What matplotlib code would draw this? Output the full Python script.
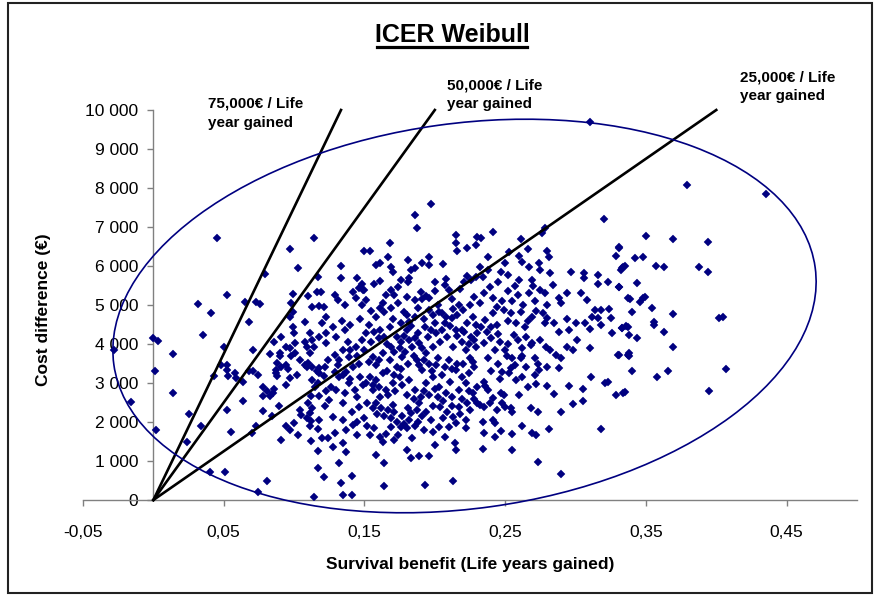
import numpy as np
import matplotlib
matplotlib.use("Agg")
import matplotlib.pyplot as plt
from matplotlib.patches import Ellipse, Rectangle
from matplotlib.lines import Line2D

plt.rcParams["font.family"] = ["Liberation Sans", "DejaVu Sans"]

# PSA draws: (survival benefit in life years, cost difference in EUR)
psa_draws = [
    # left part of the cloud
    (-0.028, 3840), (0.000, 4160), (0.003, 4080), (0.001, 3310), (-0.016, 2510), (0.002, 1790),
    (0.014, 3740), (0.014, 2740), (0.025, 2210), (0.024, 1490), (0.032, 5030), (0.035, 4230),
    (0.041, 4800), (0.045, 6720), (0.052, 5260), (0.050, 3930), (0.043, 3170), (0.048, 3470),
    (0.052, 3450), (0.052, 3340), (0.053, 3190), (0.058, 3250), (0.059, 3140), (0.064, 3020),
    (0.064, 2550), (0.052, 2320), (0.034, 1890), (0.055, 1750), (0.040, 720), (0.051, 720),
    (0.065, 5080), (0.073, 5080), (0.076, 5020), (0.068, 4570), (0.071, 3850), (0.068, 3320),
    (0.071, 3320), (0.074, 3210), (0.079, 5800), (0.078, 2280), (0.073, 1890), (0.070, 1710),
    (0.081, 480), (0.074, 200), (0.086, 4040), (0.083, 3740), (0.078, 2910), (0.081, 2790),
    (0.083, 2660), (0.078, 2660), (0.085, 2740), (0.086, 2850), (0.084, 2150), (0.091, 4190),
    (0.090, 3760), (0.090, 3680), (0.088, 3510), (0.091, 3420), (0.087, 3340), (0.087, 3250),
    (0.088, 3170), (0.094, 3470), (0.096, 3360), (0.094, 2960), (0.089, 2400), (0.094, 1890),
    (0.097, 1790), (0.091, 1530), (0.097, 6440), (0.103, 5950), (0.099, 5290), (0.098, 5040),
    (0.099, 4830), (0.097, 4700), (0.099, 4440), (0.100, 4270), (0.094, 3930), (0.097, 3890),
    (0.101, 4020), (0.098, 3680), (0.101, 3760), (0.097, 3130), (0.102, 3210), (0.104, 2320),
    (0.105, 2190), (0.100, 1980), (0.103, 1670), (0.108, 4570), (0.110, 5230), (0.108, 4060),
    (0.109, 3930), (0.104, 3590), (0.108, 3470), (0.110, 3510), (0.111, 4270), (0.113, 4100),
    (0.111, 3760), (0.114, 3930), (0.114, 6710), (0.113, 4950), (0.118, 4970), (0.116, 5340),
    (0.119, 5340), (0.117, 5730), (0.118, 4190), (0.120, 4530), (0.109, 3420), (0.113, 3080),
    (0.115, 2910), (0.112, 2660), (0.118, 2660), (0.110, 2490), (0.113, 2360), (0.111, 2230),
    (0.109, 2110), (0.112, 2020), (0.118, 2060), (0.111, 1890), (0.117, 1810), (0.120, 1600),
    (0.124, 1600), (0.112, 1510), (0.117, 1260), (0.117, 830), (0.121, 600), (0.114, 70),
    (0.123, 4700), (0.121, 4950), (0.123, 4270), (0.123, 4020), (0.122, 3420), (0.124, 3590),
    (0.121, 3170), (0.123, 2790), (0.122, 2400), (0.125, 2570), (0.118, 3380), (0.118, 3250),
    (0.113, 3420), (0.116, 3300), (0.117, 3000),
    # dense centre
    (0.197, 7580), (0.186, 7310), (0.187, 6965), (0.215, 6790), (0.215, 6600), (0.216, 6380),
    (0.230, 6750), (0.229, 6540), (0.223, 6450), (0.168, 6580), (0.150, 6380), (0.154, 6380),
    (0.167, 6240), (0.161, 6085), (0.158, 6025), (0.169, 5965), (0.170, 5855), (0.181, 6150),
    (0.186, 5940), (0.183, 5900), (0.191, 6085), (0.196, 6240), (0.196, 6025), (0.206, 6050),
    (0.133, 6000), (0.133, 5680), (0.145, 5680), (0.148, 5530), (0.149, 5380), (0.146, 5430),
    (0.161, 5620), (0.182, 5680), (0.181, 5600), (0.174, 5470), (0.169, 5380), (0.171, 5255),
    (0.208, 5660), (0.207, 5510), (0.210, 5380), (0.223, 5745), (0.226, 5640), (0.229, 5710),
    (0.221, 5600), (0.190, 5340), (0.194, 5230), (0.196, 5170), (0.191, 5145), (0.186, 5130),
    (0.129, 5255), (0.131, 5130), (0.136, 5000), (0.142, 5340), (0.144, 5170), (0.151, 5130),
    (0.150, 5380), (0.163, 5040), (0.161, 4915), (0.158, 4700), (0.164, 4830), (0.169, 4915),
    (0.174, 5040), (0.180, 4740), (0.178, 4830), (0.188, 4915), (0.186, 4700), (0.182, 4570),
    (0.196, 4870), (0.199, 4743), (0.202, 5000), (0.203, 4830), (0.207, 4530), (0.208, 4700),
    (0.213, 4910), (0.212, 4660), (0.217, 5000), (0.220, 4870), (0.225, 5000), (0.228, 5210),
    (0.227, 4700), (0.223, 4530), (0.229, 4490), (0.219, 4360), (0.128, 4440), (0.130, 4190),
    (0.136, 4360), (0.138, 4060), (0.135, 3845), (0.129, 3720), (0.132, 3590), (0.139, 3675),
    (0.144, 3930), (0.148, 4100), (0.151, 4270), (0.155, 4060), (0.150, 3845), (0.156, 3675),
    (0.146, 3500), (0.142, 3420), (0.137, 3290), (0.132, 3160), (0.129, 3290), (0.161, 4360),
    (0.164, 4190), (0.168, 4440), (0.169, 3930), (0.163, 3760), (0.173, 4190), (0.176, 4060),
    (0.180, 4360), (0.182, 4100), (0.184, 3930), (0.188, 4270), (0.189, 4020), (0.193, 4440),
    (0.195, 4190), (0.199, 3930), (0.194, 3760), (0.201, 4270), (0.204, 4060), (0.209, 4190),
    (0.213, 3930), (0.215, 4360), (0.219, 4060), (0.222, 3845), (0.226, 4190), (0.229, 3930),
    (0.230, 4270), (0.168, 3590), (0.173, 3420), (0.177, 3675), (0.181, 3500), (0.187, 3590),
    (0.191, 3330), (0.196, 3500), (0.202, 3630), (0.207, 3420), (0.210, 3590), (0.215, 3330),
    (0.220, 3500), (0.225, 3630), (0.228, 3420), (0.163, 3250), (0.158, 3080), (0.154, 3160),
    (0.149, 2950), (0.143, 2820), (0.136, 2735), (0.130, 2820), (0.126, 2905), (0.139, 2990),
    (0.156, 2820), (0.161, 2650), (0.165, 2820), (0.170, 2990), (0.175, 3160), (0.182, 3080),
    (0.186, 2820), (0.190, 2650), (0.194, 2990), (0.199, 3160), (0.203, 2905), (0.208, 2735),
    (0.211, 3030), (0.217, 2820), (0.222, 2990), (0.227, 2735), (0.230, 2905), (0.158, 2480),
    (0.162, 2350), (0.167, 2310), (0.170, 2435), (0.169, 2090), (0.173, 2010), (0.176, 1880),
    (0.180, 1840), (0.182, 2050), (0.183, 2220), (0.189, 2480), (0.194, 2265), (0.197, 2050),
    (0.188, 2010), (0.184, 1580), (0.202, 2650), (0.204, 2390), (0.209, 2265), (0.213, 2140),
    (0.215, 1965), (0.210, 1880), (0.217, 2390), (0.223, 2480), (0.222, 2050), (0.225, 2310),
    (0.230, 2480), (0.203, 1880), (0.207, 1620), (0.214, 1450), (0.215, 1280), (0.222, 1840),
    (0.146, 2390), (0.145, 2650), (0.135, 2480), (0.128, 2140), (0.135, 2050), (0.137, 1795),
    (0.142, 1925), (0.129, 1710), (0.135, 1450), (0.128, 1370), (0.137, 1240), (0.145, 1665),
    (0.154, 1665), (0.157, 1840), (0.161, 1620), (0.163, 1500), (0.169, 1860), (0.174, 1665),
    (0.158, 1150), (0.164, 955), (0.180, 1280), (0.183, 1070), (0.189, 1130), (0.196, 1130),
    (0.200, 1410), (0.132, 955), (0.141, 615), (0.133, 425), (0.135, 130), (0.141, 130),
    (0.164, 360), (0.193, 395), (0.213, 495),
    # more overlapping draws in the dense core
    (0.134, 4600), (0.140, 4500), (0.147, 4650), (0.153, 4500), (0.157, 4300), (0.160, 4150),
    (0.166, 4000), (0.171, 3800), (0.175, 3900), (0.178, 4200), (0.183, 4450), (0.186, 4150),
    (0.191, 3900), (0.197, 4350), (0.200, 4550), (0.205, 4350), (0.211, 4450), (0.216, 4200),
    (0.221, 4300), (0.224, 4000), (0.228, 4100), (0.140, 3850), (0.145, 3700), (0.153, 3550),
    (0.158, 3450), (0.160, 3600), (0.166, 3300), (0.171, 3200), (0.176, 3350), (0.179, 3800),
    (0.185, 3700), (0.189, 3450), (0.192, 3600), (0.198, 3300), (0.201, 3450), (0.205, 3200),
    (0.212, 3350), (0.216, 3500), (0.219, 3150), (0.224, 3250), (0.227, 3550), (0.131, 3450),
    (0.135, 3200), (0.140, 3100), (0.147, 3150), (0.151, 3000), (0.156, 2950), (0.160, 2900),
    (0.167, 2700), (0.172, 2800), (0.177, 2950), (0.180, 2700), (0.185, 2600), (0.192, 2800),
    (0.196, 2700), (0.200, 2850), (0.206, 2550), (0.212, 2650), (0.219, 2600), (0.224, 2800),
    (0.228, 2600), (0.152, 2500), (0.156, 2350), (0.159, 2200), (0.164, 2150), (0.171, 2250),
    (0.177, 2150), (0.181, 2350), (0.187, 2300), (0.191, 2150), (0.199, 2400), (0.206, 2100),
    (0.212, 2400), (0.218, 2200), (0.150, 2100), (0.145, 2000), (0.141, 2250), (0.152, 1900),
    (0.178, 1950), (0.192, 1800), (0.199, 1750), (0.186, 1900), (0.165, 1700), (0.171, 1550),
    (0.148, 5000), (0.155, 4850), (0.170, 4650), (0.176, 4550), (0.192, 4650), (0.205, 4800),
    (0.216, 4750), (0.212, 5150), (0.200, 5350), (0.180, 5200), (0.165, 5250), (0.157, 5550),
    (0.176, 5650), (0.200, 5600), (0.218, 5400), (0.237, 4300), (0.244, 4500), (0.252, 4600),
    (0.245, 4250), (0.252, 4000), (0.259, 4100), (0.262, 3900), (0.238, 3650), (0.245, 3500),
    (0.251, 3700), (0.240, 3300), (0.246, 3100), (0.257, 3450), (0.265, 3400), (0.239, 2500),
    (0.244, 2300), (0.260, 2700), (0.266, 2900), (0.244, 4950), (0.252, 5350), (0.263, 5000),
    (0.272, 4850), (0.266, 4600), (0.257, 5500), (0.245, 5600), (0.238, 5900), (0.270, 5500),
    # right of centre
    (0.310, 9680), (0.320, 7200), (0.241, 6880), (0.233, 6710), (0.261, 6680), (0.278, 6965),
    (0.276, 6840), (0.253, 6370), (0.260, 6260), (0.266, 6430), (0.238, 6240), (0.232, 5980),
    (0.250, 6070), (0.247, 5855), (0.252, 5770), (0.280, 6390), (0.281, 6240), (0.262, 6110),
    (0.267, 5980), (0.274, 6070), (0.275, 5900), (0.282, 5830), (0.331, 6500), (0.329, 6260),
    (0.334, 5980), (0.332, 5900), (0.297, 5840), (0.306, 5810), (0.306, 5680), (0.316, 5770),
    (0.323, 5600), (0.316, 5530), (0.331, 5470), (0.337, 5170), (0.260, 5640), (0.269, 5640),
    (0.275, 5380), (0.278, 5300), (0.284, 5510), (0.294, 5320), (0.304, 5300), (0.308, 5130),
    (0.288, 5170), (0.290, 5040), (0.234, 5730), (0.239, 5470), (0.235, 5300), (0.241, 5170),
    (0.232, 5040), (0.248, 5090), (0.255, 5090), (0.259, 5260), (0.267, 5300), (0.271, 5090),
    (0.280, 5000), (0.241, 4790), (0.236, 4620), (0.233, 4440), (0.240, 4440), (0.249, 4870),
    (0.254, 4790), (0.261, 4830), (0.258, 4530), (0.264, 4440), (0.269, 4700), (0.277, 4790),
    (0.280, 4660), (0.285, 4530), (0.278, 4530), (0.294, 4630), (0.300, 4530), (0.295, 4360),
    (0.288, 4320), (0.314, 4870), (0.318, 4870), (0.324, 4910), (0.312, 4700), (0.316, 4660),
    (0.318, 4490), (0.325, 4660), (0.307, 4530), (0.310, 4380), (0.326, 4270), (0.333, 4400),
    (0.337, 4440), (0.235, 4020), (0.240, 4150), (0.246, 4060), (0.243, 3850), (0.250, 3850),
    (0.256, 4230), (0.265, 4190), (0.269, 4020), (0.275, 4100), (0.279, 3930), (0.282, 3850),
    (0.286, 3720), (0.290, 3630), (0.262, 3680), (0.255, 3630), (0.248, 3290), (0.253, 3250),
    (0.268, 3970), (0.271, 3630), (0.273, 3500), (0.274, 3330), (0.280, 3420), (0.288, 3380),
    (0.294, 3930), (0.298, 3850), (0.301, 4100), (0.310, 3910), (0.330, 3720), (0.337, 3720),
    (0.311, 3160), (0.321, 3010), (0.323, 3030), (0.329, 2690), (0.334, 2750), (0.295, 2920),
    (0.305, 2840), (0.305, 2540), (0.298, 2460), (0.290, 2265), (0.272, 2970), (0.280, 2920),
    (0.285, 2720), (0.268, 2350), (0.273, 2265), (0.262, 1900), (0.269, 1710), (0.272, 1670),
    (0.281, 1810), (0.255, 1280), (0.273, 970), (0.290, 660), (0.318, 1810), (0.234, 1300),
    (0.235, 1730), (0.243, 1610), (0.247, 1780), (0.255, 1690), (0.241, 2050), (0.243, 1970),
    (0.234, 2010), (0.232, 2440), (0.235, 2390), (0.248, 2480), (0.250, 2390), (0.255, 2265),
    (0.254, 2350), (0.235, 3030), (0.238, 2820), (0.236, 2920), (0.247, 2740), (0.249, 2690),
    (0.241, 2610), (0.261, 3630), (0.258, 3080), (0.254, 3380), (0.262, 3160), (0.271, 3200),
    # far right
    (0.379, 8070), (0.435, 7840), (0.350, 6770), (0.369, 6690), (0.394, 6610), (0.342, 6200),
    (0.348, 6240), (0.333, 5940), (0.335, 6000), (0.331, 6450), (0.357, 6000), (0.363, 5965),
    (0.388, 5965), (0.394, 5845), (0.344, 5570), (0.331, 5470), (0.339, 5150), (0.346, 5085),
    (0.348, 5170), (0.349, 5200), (0.354, 4920), (0.340, 4810), (0.369, 4780), (0.356, 4570),
    (0.356, 4500), (0.402, 4660), (0.405, 4690), (0.333, 4420), (0.336, 4460), (0.338, 4230),
    (0.344, 4150), (0.363, 4310), (0.369, 3920), (0.331, 3720), (0.338, 3760), (0.338, 3690),
    (0.340, 3310), (0.358, 3150), (0.366, 3310), (0.407, 3350), (0.335, 2770), (0.395, 2800),
]

# willingness-to-pay thresholds (EUR per life year gained)
wtp = [75000, 50000, 25000]
wtp_labels = ["75,000€ / Life\nyear gained", "50,000€ / Life\nyear gained", "25,000€ / Life\nyear gained"]

x_ticks = [-0.05, 0.05, 0.15, 0.25, 0.35, 0.45]
y_ticks = list(range(0, 10001, 1000))

NAVY = "#000080"
W, H = 885, 595

pts = np.array(psa_draws, dtype=float)
benefit, cost = pts[:, 0], pts[:, 1]

fig = plt.figure(figsize=(W / 100, H / 100), dpi=100)
ax = fig.add_axes([83 / W, 1 - 500 / H, (857 - 83) / W, 390 / H])

ax.plot(benefit, cost, linestyle="none", marker="D", ms=3.7, mfc=NAVY, mec=NAVY, mew=0.3, zorder=3)

y_max = 10000
for k in wtp:
    ax.plot([0, y_max / k], [0, y_max], color="black", lw=1.9, clip_on=False, zorder=4)

ax.set_xlim(-0.05, 0.5)
ax.set_ylim(0, 10000)
ax.set_xticks(x_ticks)
ax.set_xticklabels([f"{v:.2f}".replace(".", ",") for v in x_ticks])
ax.set_yticks(y_ticks)
ax.set_yticklabels([f"{v:,}".replace(",", " ") for v in y_ticks])

for s in ["top", "right"]:
    ax.spines[s].set_visible(False)
ax.spines["left"].set_position(("data", 0))
for s in ["left", "bottom"]:
    ax.spines[s].set_color("#808080")
    ax.spines[s].set_linewidth(1.0)
ax.tick_params(axis="both", direction="out", length=4, width=1, color="#808080", labelsize=12.5)
ax.tick_params(axis="x", pad=14)
ax.tick_params(axis="y", pad=7)
ax.patch.set_visible(False)

# ellipse drawn in figure inches so the rotation is not distorted
fig.add_artist(Ellipse((4.645, 2.79), 7.08, 3.85, angle=7.9, transform=fig.dpi_scale_trans,
                       fill=False, ec=NAVY, lw=1.2, zorder=5))

label_pos = [(208, 97), (447, 78), (740, 70)]
for (px, py), txt in zip(label_pos, wtp_labels):
    fig.text(px / W, 1 - py / H, txt, ha="left", va="top", fontsize=11, fontweight="bold",
             linespacing=1.45)

fig.text(452 / W, 1 - 42 / H, "ICER Weibull", ha="center", va="baseline", fontsize=18,
         fontweight="bold")
fig.add_artist(Line2D([377 / W, 527 / W], [1 - 47 / H, 1 - 47 / H], color="black", lw=2.3,
                      transform=fig.transFigure))

fig.text(470 / W, 1 - 565 / H, "Survival benefit (Life years gained)", ha="center", va="center",
         fontsize=12.5, fontweight="bold")
fig.text(44 / W, 1 - 310 / H, "Cost difference (€)", ha="center", va="center", rotation=90,
         fontsize=12.5, fontweight="bold")

fig.add_artist(Rectangle((0.08, 0.02), 8.64, 5.90, transform=fig.dpi_scale_trans, fill=False,
                         ec="#222222", lw=1.5))

fig.savefig("out.png", dpi=100)
